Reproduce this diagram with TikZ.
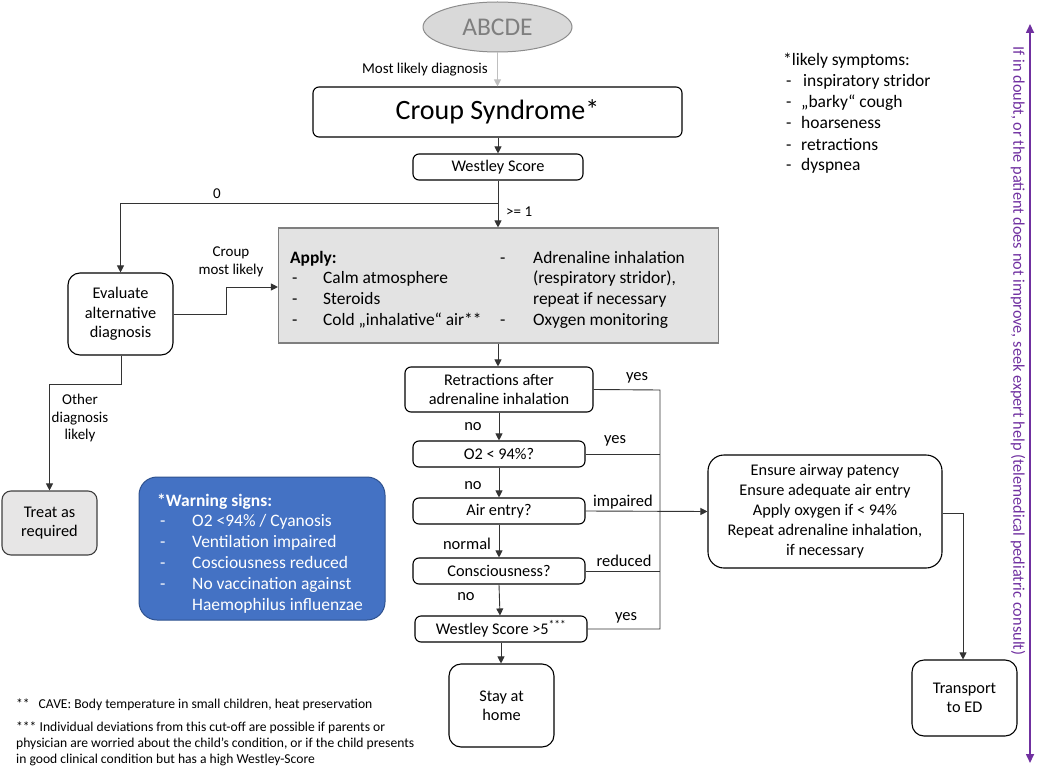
\documentclass[tikz,border=0pt]{standalone}
\usepackage{fontspec}
\setmainfont{Carlito}
\usetikzlibrary{arrows.meta,positioning,shapes.geometric}
\definecolor{lgray}{HTML}{D9D9D9}
\definecolor{mgray}{HTML}{8C8C8C}
\definecolor{tgray}{HTML}{7F7F7F}
\definecolor{afill}{HTML}{E3E3E3}
\definecolor{tfill}{HTML}{E7E6E6}
\definecolor{wblue}{HTML}{4472C4}
\definecolor{wborder}{HTML}{2F528F}
\definecolor{purp}{HTML}{7030A0}
\definecolor{lnk}{HTML}{333333}
\definecolor{garr}{HTML}{BFBFBF}
\tikzset{
  stepbox/.style={draw=black, line width=1.1pt, rounded corners=6pt, align=center, inner sep=0pt, font=\fontsize{16.3}{19.3}\selectfont},
  conn/.style={draw=lnk, line width=0.9pt},
  arr/.style={conn, -{Triangle[length=7pt,width=7pt]}},
  lbl/.style={font=\fontsize{15}{17.5}\selectfont, inner sep=0pt},
  ylbl/.style={font=\fontsize{16.5}{19}\selectfont, inner sep=0pt},
  itemtxt/.style={font=\fontsize{17.4}{20}\selectfont, inner sep=0pt, anchor=base west},
  wtxt/.style={font=\fontsize{17.5}{20}\selectfont, inner sep=0pt, anchor=base west, text=white},
  stxt/.style={font=\fontsize{17.5}{20}\selectfont, inner sep=0pt, anchor=base west},
  ftxt/.style={font=\fontsize{13.6}{15}\selectfont, inner sep=0pt, anchor=base west},
}
\begin{document}
\begin{tikzpicture}[x=1pt,y=-1pt]
\useasboundingbox (0,0) rectangle (1040,770);

% ABCDE
\node[ellipse, draw=mgray, fill=lgray, line width=1pt, minimum width=149pt, minimum height=50pt, inner sep=0pt, text=tgray, font=\fontsize{25.5}{28}\selectfont] (abcde) at (497.5,27) {ABCDE};
\node[stepbox, minimum width=369pt, minimum height=50pt, font=\fontsize{28}{31}\selectfont] (croup) at (497.5,112) {Croup Syndrome*};
\draw[draw=garr, line width=0.9pt, -{Triangle[length=7pt,width=7pt]}] (abcde.south) -- (croup.north);
\node[lbl, anchor=east] (mld) at (488,70) {Most likely diagnosis};

\node[stepbox, minimum width=170pt, minimum height=26pt] (ws) at (498,167) {Westley Score};
\draw[arr] (croup.south -| ws) -- (ws.north);

% Evaluate
\node[stepbox, minimum width=105pt, minimum height=82pt, rounded corners=12pt] (eval) at (120.5,314) {Evaluate\\alternative\\diagnosis};

% Apply box
\node[draw=tgray, fill=afill, line width=1.1pt, minimum width=440pt, minimum height=115pt, inner sep=0pt] (apply) at (498.5,285.5) {};
\node[itemtxt, font=\fontsize{17.4}{20}\selectfont\bfseries] (ap0) at (290,263) {Apply:};
\node[itemtxt] (d1) at (292,283) {-};
\node[itemtxt] (ap1) at (323,283) {Calm atmosphere};
\node[itemtxt] (d2) at (292,304) {-};
\node[itemtxt] (ap2) at (323,304) {Steroids};
\node[itemtxt] (d3) at (292,325) {-};
\node[itemtxt] (ap3) at (323,325) {Cold „inhalative“ air**};
\node[itemtxt] (d4) at (500,263) {-};
\node[itemtxt] (ap4) at (533,263) {Adrenaline inhalation};
\node[itemtxt] (ap5) at (533,283) {(respiratory stridor),};
\node[itemtxt] (ap6) at (533,304) {repeat if necessary};
\node[itemtxt] (d5) at (500,325) {-};
\node[itemtxt] (ap7) at (533,325) {Oxygen monitoring};

\coordinate (br) at (ws.south |- 0,203);
\draw[conn] (ws.south) -- (br);
\draw[arr] (br) -- (ws.south |- apply.north);
\draw[arr] (br) -| (eval.north);
\node[lbl] (zero) at (217,194) {0};
\node[lbl, anchor=west] (ge1) at (506,212) {>= 1};

\coordinate (e1) at (226,314);
\coordinate (e2) at (226,287);
\draw[arr] (eval.east |- e1) -- (e1) -- (e2) -- (apply.west |- e2);
\node[lbl, align=center] (cml) at (231,262) {Croup\\most likely};

% Treat
\node[stepbox, fill=tfill, draw=black!75, minimum width=95pt, minimum height=64pt, rounded corners=9pt] (treat) at (49.5,523) {Treat as\\required};
\coordinate (t0) at (121,384);
\draw[arr] (eval.south -| t0) -- (t0) -| (treat.north);
\node[lbl, align=center] (odl) at (80,418) {Other\\diagnosis\\likely};

% Warning box
\node[draw=wborder, fill=wblue, line width=1pt, rounded corners=18pt, minimum width=246pt, minimum height=143pt, inner sep=0pt] (warn) at (262,548.5) {};
\node[wtxt, font=\fontsize{17.5}{20}\selectfont\bfseries] (w0) at (157,506) {*Warning signs:};
\node[wtxt] (wd1) at (160,526) {-};
\node[wtxt] (w1) at (192,526) {O2 <94\% / Cyanosis};
\node[wtxt] (wd2) at (160,547) {-};
\node[wtxt] (w2) at (192,547) {Ventilation impaired};
\node[wtxt] (wd3) at (160,568) {-};
\node[wtxt] (w3) at (192,568) {Cosciousness reduced};
\node[wtxt] (wd4) at (160,589) {-};
\node[wtxt] (w4) at (192,589) {No vaccination against};
\node[wtxt] (w5) at (192,610) {Haemophilus influenzae};

% Central chain
\node[stepbox, minimum width=188pt, minimum height=45pt] (retr) at (499,389.5) {Retractions after\\adrenaline inhalation};
\draw[arr] (ws.south |- apply.south) -- (ws.south |- retr.north);
\node[stepbox, minimum width=172pt, minimum height=26pt] (o2) at (499,454) {O2 < 94\%?};
\draw[arr] (retr.south) -- (o2.north);
\node[ylbl] (no1) at (473,427) {no};
\node[stepbox, minimum width=172pt, minimum height=26pt] (air) at (499,511) {Air entry?};
\draw[arr] (o2.south) -- (air.north);
\node[ylbl] (no2) at (473,486) {no};
\node[stepbox, minimum width=172pt, minimum height=26pt] (cons) at (499,571) {Consciousness?};
\draw[arr] (air.south) -- (cons.north);
\node[ylbl] (nrm) at (467,544) {normal};
\node[stepbox, minimum width=172pt, minimum height=26pt] (ws5) at (501,629) {Westley Score >5\textsuperscript{***}};
\draw[arr] (cons.south) -- ([xshift=1pt]cons.south |- ws5.north);
\node[ylbl] (no3) at (466,597) {no};
\node[stepbox, minimum width=105pt, minimum height=83pt, rounded corners=12pt] (stay) at (501.5,705.5) {Stay at\\home};
\draw[arr] (ws5.south) -- (ws5.south |- stay.north);

% right collector
\node[stepbox, minimum width=234pt, minimum height=113pt, rounded corners=16pt, font=\fontsize{16.3}{20}\selectfont] (ensure) at (825,511.5) {Ensure airway patency\\Ensure adequate air entry\\Apply oxygen if < 94\%\\Repeat adrenaline inhalation,\\if necessary};
\coordinate (vtop) at (660,390);
\coordinate (vbot) at (660,629);
\draw[conn] (retr.east) -- (vtop) -- (vbot) -- (ws5.east);
\draw[conn] (o2.east) -- (o2.east -| vtop);
\draw[conn] (cons.east) -- (cons.east -| vtop);
\draw[arr] (air.east) -- (ensure.west);
\node[ylbl] (y1) at (637,378) {yes};
\node[ylbl] (y2) at (615,441) {yes};
\node[ylbl] (imp) at (623,502) {impaired};
\node[ylbl] (red) at (624,561) {reduced};
\node[ylbl] (y3) at (626,618) {yes};

\node[stepbox, minimum width=105pt, minimum height=76pt, rounded corners=12pt] (trans) at (964.5,698) {Transport\\to ED};
\coordinate (t1) at (963,513);
\draw[arr] (ensure.east |- t1) -- (t1) -- (t1 |- trans.north);

% symptoms
\node[stxt] (s0) at (783,66) {*likely symptoms:};
\node[stxt] (sd1) at (786,87) {-};
\node[stxt] (s1) at (803,87) {inspiratory stridor};
\node[stxt] (sd2) at (786,108) {-};
\node[stxt] (s2) at (801,108) {„barky“ cough};
\node[stxt] (sd3) at (786,129) {-};
\node[stxt] (s3) at (801,129) {hoarseness};
\node[stxt] (sd4) at (786,150) {-};
\node[stxt] (s4) at (801,150) {retractions};
\node[stxt] (sd5) at (786,171) {-};
\node[stxt] (s5) at (801,171) {dyspnea};

% footnotes
\node[ftxt] (f1) at (16,708) {**\hspace{9pt}CAVE: Body temperature in small children, heat preservation};
\node[ftxt] (f2) at (16,731) {*** Individual deviations from this cut-off are possible if parents or};
\node[ftxt] (f3) at (16,747) {physician are worried about the child’s condition, or if the child presents};
\node[ftxt] (f4) at (16,763) {in good clinical condition but has a high Westley-Score};

% purple
\coordinate (pt) at (1030,24);
\coordinate (pb) at (1030,763);
\draw[draw=purp, line width=1.6pt, {Triangle[length=9pt,width=8pt]}-{Triangle[length=9pt,width=8pt]}] (pt) -- (pb);
\node[rotate=-90, text=purp, font=\fontsize{16.3}{18}\selectfont, inner sep=0pt] (ptxt) at (1018,351) {If in doubt, or the patient does not improve, seek expert help (telemedical pediatric consult)};
\end{tikzpicture}
\end{document}
